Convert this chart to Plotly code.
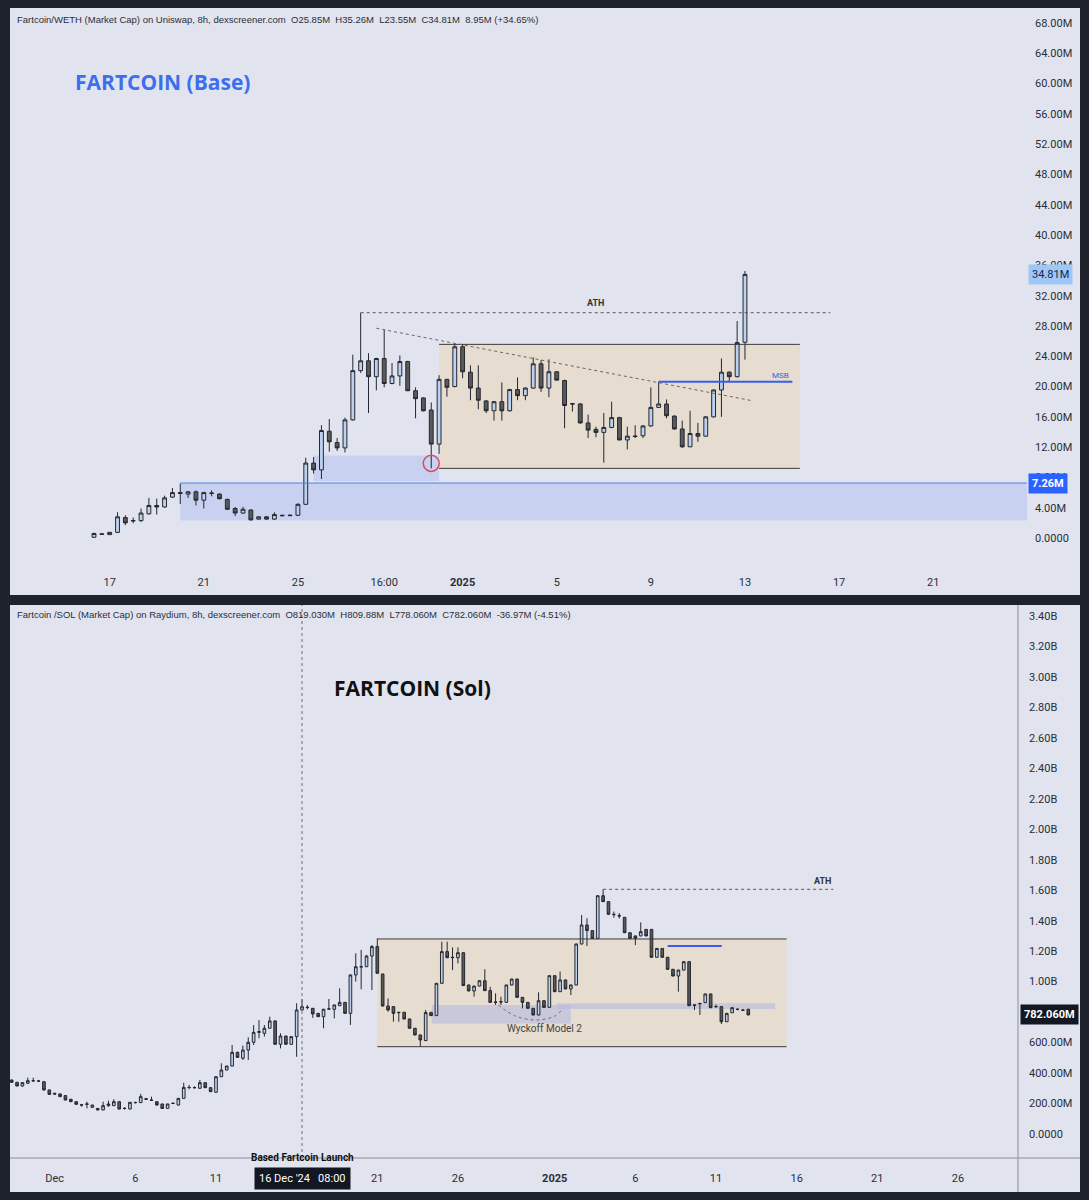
import pandas as pd
import plotly.graph_objects as go

W, H = 1089, 1200

# ---------------- TOP PANEL DATA (Fartcoin/WETH, values in M) ----------------
top_open = [0.1, 0.55, 0.45, 0.75, 2.7, 2.25, 2.3, 3.2, 4.3, 4.1, 5.4, 6.0, 5.8, 6.1, 5.0, 5.95, 5.8, 5.1, 3.9, 3.3,
            3.7, 2.5, 2.8, 2.5, 3.0, 2.95, 3.0, 4.45, 9.9, 9.0, 14.1, 12.6, 11.9, 15.6, 22.1, 23.4, 21.3, 23.7, 20.4, 21.4,
            23.3, 19.45, 18.5, 16.9, 12.4, 20.95, 20.0, 25.25, 21.9, 19.8, 18.1, 16.8, 18.0, 16.8, 19.6, 18.8, 19.8, 23.0, 19.8, 21.95,
            20.8, 17.75, 17.7, 15.2, 14.35, 13.95, 14.6, 15.9, 12.95, 13.4, 13.5, 14.8, 17.25, 17.7, 16.1, 14.4, 12.05, 13.8, 13.45, 16.0,
            19.55, 21.9, 21.3, 25.85]
top_high = [0.7, 0.6, 0.8, 3.4, 3.0, 2.7, 3.9, 5.3, 5.2, 5.6, 6.6, 7.2, 6.2, 6.3, 6.1, 6.3, 5.9, 5.2, 4.1, 4.1,
            3.8, 2.9, 2.9, 3.4, 3.1, 3.1, 4.6, 10.6, 10.7, 14.9, 15.7, 13.2, 15.9, 24.2, 29.75, 24.4, 23.8, 27.5, 23.1, 24.1,
            23.4, 19.9, 18.6, 17.9, 21.5, 21.0, 25.6, 25.6, 22.8, 22.8, 18.2, 18.1, 20.55, 19.7, 21.2, 19.9, 23.85, 23.5, 23.6, 22.0,
            20.9, 17.8, 17.8, 16.3, 14.7, 16.5, 18.0, 16.0, 14.7, 14.9, 14.9, 19.9, 20.65, 18.3, 16.2, 15.5, 16.8, 15.2, 16.1, 19.6,
            23.7, 22.0, 28.65, 35.26]
top_low = [0.05, 0.45, 0.4, 0.7, 1.7, 1.95, 2.1, 3.1, 3.1, 4.0, 5.3, 4.5, 5.3, 4.3, 3.9, 5.5, 5.1, 3.7, 2.9, 3.2,
           2.3, 2.4, 2.4, 2.4, 2.9, 2.9, 2.9, 4.4, 8.5, 7.8, 11.4, 11.5, 11.3, 15.5, 21.8, 16.5, 19.5, 19.9, 20.3, 20.1,
           19.4, 15.8, 16.7, 9.2, 11.1, 18.65, 19.9, 21.1, 18.2, 17.0, 16.5, 15.5, 15.5, 16.7, 18.2, 18.2, 19.7, 19.3, 18.6, 20.8,
           14.5, 16.7, 15.1, 13.2, 13.3, 9.95, 14.5, 12.9, 11.7, 13.2, 13.2, 14.7, 17.2, 15.8, 14.3, 11.9, 12.0, 12.7, 13.4, 15.9,
           16.0, 20.55, 21.2, 23.55]
top_close = [0.6, 0.5, 0.75, 2.8, 2.0, 2.3, 3.3, 4.3, 4.1, 5.3, 6.0, 5.9, 6.1, 5.0, 6.0, 5.9, 5.2, 3.8, 3.3, 3.8,
             2.4, 2.8, 2.5, 3.1, 2.95, 3.0, 4.45, 9.9, 9.0, 14.2, 12.7, 11.9, 15.6, 22.1, 23.4, 21.3, 23.7, 20.4, 21.4, 23.3,
             19.45, 18.4, 16.8, 12.4, 20.95, 19.9, 25.25, 21.95, 19.8, 18.2, 16.8, 18.0, 16.8, 19.6, 18.8, 19.8, 23.0, 19.8, 21.95, 20.85,
             17.5, 17.7, 15.2, 14.25, 13.95, 14.6, 15.9, 12.95, 13.45, 13.45, 14.8, 17.25, 17.7, 16.15, 14.4, 12.05, 13.8, 13.45, 16.0, 19.55,
             21.9, 21.3, 25.8, 34.81]
top_start = "2024-12-16 08:00"

top_y_ticks = [0, 4, 8, 12, 16, 20, 24, 28, 32, 36, 40, 44, 48, 52, 56, 60, 64, 68]
top_y_text = ["0.0000", "4.00M", "8.00M", "12.00M", "16.00M", "20.00M", "24.00M", "28.00M", "32.00M", "36.00M",
              "40.00M", "44.00M", "48.00M", "52.00M", "56.00M", "60.00M", "64.00M", "68.00M"]
top_x_ticks = ["2024-12-17", "2024-12-21", "2024-12-25", "2024-12-28 16:00", "2025-01-01", "2025-01-05",
               "2025-01-09", "2025-01-13", "2025-01-17", "2025-01-21"]
top_x_text = ["17", "21", "25", "16:00", "<b>2025</b>", "5", "9", "13", "17", "21"]

top_ath = 29.75
top_box = [9.2, 25.57]
top_msb = 20.65
top_support = 7.26
top_last = 34.81

# ---------------- BOTTOM PANEL DATA (Fartcoin/SOL, values in M) ----------------
bot_open = [354, 339, 315, 333, 350, 348, 343, 289, 267, 263, 252, 228, 212, 192, 195, 175, 168, 158, 186, 186,
            212, 169, 164, 207, 206, 232, 223, 212, 197, 168, 202, 190, 234, 306, 305, 300, 337, 304, 274, 376,
            420, 446, 536, 497, 551, 602, 667, 661, 694, 742, 589, 643, 589, 639, 814, 832, 825, 792, 770, 820,
            818, 842, 864, 792, 1044, 1098, 1098, 1168, 1230, 1050, 840, 836, 799, 799, 755, 694, 650, 613, 797, 777,
            989, 1197, 1160, 1157, 1190, 978, 939, 971, 1006, 941, 864, 868, 864, 978, 1017, 897, 864, 825, 781, 875,
            831, 1039, 934, 1011, 952, 978, 1247, 1372, 1335, 1284, 1564, 1525, 1442, 1433, 1422, 1321, 1300, 1300, 1343, 1343,
            1160, 1218, 1160, 1081, 1037, 1076, 1131, 847, 855, 862, 919, 836, 836, 737, 796, 818, 814, 819]
bot_high = [358, 342, 340, 370, 370, 355, 348, 291, 271, 266, 254, 230, 214, 195, 212, 192, 170, 212, 219, 228,
            214, 175, 210, 212, 263, 236, 245, 214, 199, 199, 205, 236, 337, 322, 313, 354, 340, 306, 378, 464,
            448, 584, 540, 580, 634, 715, 748, 715, 770, 745, 661, 645, 641, 858, 884, 847, 827, 794, 821, 886,
            849, 956, 866, 1046, 1186, 1208, 1175, 1240, 1284, 1052, 890, 838, 801, 801, 757, 696, 652, 814, 803, 991,
            1262, 1262, 1225, 1225, 1192, 980, 973, 1008, 1081, 966, 923, 901, 980, 1019, 1019, 899, 866, 827, 930, 877,
            1041, 1041, 1066, 1013, 980, 1249, 1437, 1416, 1337, 1566, 1606, 1527, 1460, 1450, 1424, 1323, 1302, 1389, 1345, 1345,
            1220, 1220, 1162, 1083, 1078, 1133, 1133, 849, 860, 921, 921, 850, 838, 794, 831, 825, 818, 819]
bot_low = [336, 313, 312, 330, 343, 343, 285, 258, 258, 243, 221, 210, 193, 179, 168, 172, 156, 156, 179, 184,
           162, 160, 162, 200, 204, 226, 219, 188, 166, 166, 198, 188, 232, 293, 298, 298, 302, 276, 272, 374,
           418, 444, 500, 486, 486, 584, 628, 639, 692, 587, 562, 587, 587, 507, 812, 818, 762, 768, 694, 818,
           759, 840, 790, 716, 1000, 950, 1096, 945, 1053, 838, 803, 737, 737, 753, 692, 648, 573, 611, 775, 775,
           987, 1155, 1076, 1120, 972, 937, 901, 969, 939, 862, 847, 847, 862, 976, 895, 825, 823, 779, 779, 829,
           829, 932, 932, 950, 912, 976, 1245, 1234, 1282, 1282, 1523, 1440, 1420, 1415, 1319, 1282, 1240, 1298, 1298, 1158,
           1158, 1158, 1079, 1035, 934, 1074, 840, 814, 781, 860, 827, 830, 722, 735, 794, 812, 808, 778]
bot_close = [339, 315, 337, 350, 349, 347, 289, 260, 262, 245, 223, 212, 195, 190, 197, 190, 158, 186, 197, 212,
             164, 168, 208, 206, 245, 228, 221, 190, 168, 197, 201, 234, 306, 305, 304, 337, 304, 278, 376, 420,
             446, 536, 503, 551, 602, 667, 672, 694, 742, 589, 643, 589, 639, 814, 836, 830, 788, 770, 819, 821,
             847, 864, 792, 1044, 1098, 1097, 1168, 1230, 1055, 840, 814, 792, 797, 755, 694, 650, 617, 797, 777, 989,
             1197, 1157, 1158, 1190, 974, 939, 971, 1006, 941, 864, 866, 867, 978, 1017, 897, 864, 825, 781, 875, 831,
             1039, 934, 1011, 952, 978, 1247, 1372, 1335, 1284, 1564, 1525, 1442, 1440, 1431, 1321, 1284, 1284, 1328, 1300, 1160,
             1218, 1160, 1081, 1037, 1076, 1131, 842, 845, 857, 919, 829, 836, 737, 792, 829, 818, 812, 782.06]
bot_start = "2024-11-28 08:00"

bot_y_ticks = [0, 200, 400, 600, 800, 1000, 1200, 1400, 1600, 1800, 2000, 2200, 2400, 2600, 2800, 3000, 3200, 3400]
bot_y_text = ["0.0000", "200.00M", "400.00M", "600.00M", "800.00M", "1.00B", "1.20B", "1.40B", "1.60B", "1.80B",
              "2.00B", "2.20B", "2.40B", "2.60B", "2.80B", "3.00B", "3.20B", "3.40B"]
bot_x_ticks = ["2024-12-01", "2024-12-06", "2024-12-11", "2024-12-21", "2024-12-26", "2025-01-01",
               "2025-01-06", "2025-01-11", "2025-01-16", "2025-01-21", "2025-01-26"]
bot_x_text = ["Dec", "6", "11", "21", "26", "<b>2025</b>", "6", "11", "16", "21", "26"]

bot_ath = 1606
bot_box = [573, 1280]
bot_blue = 1234
bot_last = 782.06
wyckoff_x = ["2024-12-28 12:00", "2024-12-29 14:00", "2024-12-30 21:00", "2025-01-01 00:00", "2025-01-01 12:00"]
wyckoff_y = [847, 774, 748, 774, 822]

# ---------------- FIGURE ----------------
BG = "#e1e4ef"
FRAME = "#1e222d"
UP_FILL, DN_FILL, EDGE = "#bcd2f0", "#5a5a5a", "#24272f"


def px(x):
    return x / W


def py(y):
    return 1 - y / H


top_dates = pd.date_range(top_start, periods=len(top_open), freq="8h")
bot_dates = pd.date_range(bot_start, periods=len(bot_open), freq="8h")

fig = go.Figure()
candle_style = dict(
    increasing=dict(line=dict(color=EDGE, width=1), fillcolor=UP_FILL),
    decreasing=dict(line=dict(color=EDGE, width=1), fillcolor=DN_FILL),
    whiskerwidth=0, showlegend=False, hoverinfo="skip",
)
fig.add_trace(go.Candlestick(x=top_dates, open=top_open, high=top_high, low=top_low, close=top_close,
                             xaxis="x", yaxis="y", **candle_style))
fig.add_trace(go.Candlestick(x=bot_dates, open=bot_open, high=bot_high, low=bot_low, close=bot_close,
                             xaxis="x2", yaxis="y2", **candle_style))
fig.add_trace(go.Scatter(x=wyckoff_x, y=wyckoff_y, mode="lines", xaxis="x2", yaxis="y2",
                         line=dict(color="#6b6f80", width=1, dash="dot", shape="spline"),
                         showlegend=False, hoverinfo="skip"))

tick_font = dict(family="Roboto, Liberation Sans, sans-serif", size=11, color="#2a2e39")
axis_common = dict(showgrid=False, zeroline=False, showline=False, fixedrange=True, tickfont=tick_font)

fig.update_layout(
    width=W, height=H, margin=dict(l=0, r=0, t=0, b=0),
    paper_bgcolor=FRAME, plot_bgcolor="rgba(0,0,0,0)",
    xaxis=dict(domain=[px(10), px(1027)], anchor="y", type="date",
               range=["2024-12-12 18:20", "2025-01-24 23:40"],
               tickmode="array", tickvals=top_x_ticks, ticktext=top_x_text,
               ticks="", ticklabelstandoff=9, rangeslider=dict(visible=False), **axis_common),
    yaxis=dict(domain=[py(565), py(8)], anchor="x", side="right", range=[-3.56, 69.98],
               tickmode="array", tickvals=top_y_ticks, ticktext=top_y_text,
               ticks="", ticklabelstandoff=7, **axis_common),
    xaxis2=dict(domain=[px(10), px(1018)], anchor="y2", type="date",
                range=["2024-11-28 05:30", "2025-01-29 17:20"],
                tickmode="array", tickvals=bot_x_ticks, ticktext=bot_x_text,
                ticks="", ticklabelstandoff=12, rangeslider=dict(visible=False), **axis_common),
    yaxis2=dict(domain=[py(1158), py(605)], anchor="x2", side="right", range=[-157.5, 3472],
                tickmode="array", tickvals=bot_y_ticks, ticktext=bot_y_text,
                ticks="", ticklabelstandoff=10, **axis_common),
)

shapes = []
# panel backgrounds
shapes.append(dict(type="rect", xref="paper", yref="paper", x0=px(10), x1=px(1080), y0=py(595), y1=py(8),
                   fillcolor=BG, line=dict(width=0), layer="below"))
shapes.append(dict(type="rect", xref="paper", yref="paper", x0=px(10), x1=px(1080), y0=py(1192), y1=py(605),
                   fillcolor=BG, line=dict(width=0), layer="below"))
# bottom panel separators
shapes.append(dict(type="line", xref="paper", yref="paper", x0=px(1018), x1=px(1018), y0=py(1192), y1=py(605),
                   line=dict(color="#8a8e9a", width=1)))
shapes.append(dict(type="line", xref="paper", yref="paper", x0=px(10), x1=px(1080), y0=py(1158), y1=py(1158),
                   line=dict(color="#8a8e9a", width=1)))

# --- top panel drawings ---
shapes.append(dict(type="rect", xref="x", yref="y", x0="2024-12-20 00:00", x1="2025-01-24 23:40",
                   y0=2.3, y1=top_support, fillcolor="#c9d1f1", line=dict(width=0), layer="below"))
shapes.append(dict(type="rect", xref="x", yref="y", x0="2024-12-25 16:00", x1="2024-12-31 00:00",
                   y0=7.5, y1=10.9, fillcolor="#c9d1f1", line=dict(width=0), layer="below"))
shapes.append(dict(type="line", xref="x", yref="y", x0="2024-12-20 00:00", x1="2025-01-24 23:40",
                   y0=top_support, y1=top_support, line=dict(color="#4f7ff0", width=1)))
shapes.append(dict(type="rect", xref="x", yref="y", x0="2024-12-31 00:00", x1="2025-01-15 08:00",
                   y0=top_box[0], y1=top_box[1], fillcolor="#e6dcd0", line=dict(width=0), layer="below"))
for yv in top_box:
    shapes.append(dict(type="line", xref="x", yref="y", x0="2024-12-31 00:00", x1="2025-01-15 08:00",
                       y0=yv, y1=yv, line=dict(color="#3a3a3a", width=1)))
shapes.append(dict(type="line", xref="x", yref="y", x0="2024-12-27 16:00", x1="2025-01-16 15:00",
                   y0=top_ath, y1=top_ath, line=dict(color="#555", width=1, dash="dot")))
shapes.append(dict(type="line", xref="x", yref="y", x0="2024-12-28 08:00", x1="2025-01-13 08:30",
                   y0=27.7, y1=18.1, line=dict(color="#666", width=1, dash="dot")))
shapes.append(dict(type="line", xref="x", yref="y", x0="2025-01-09 08:00", x1="2025-01-15 00:20",
                   y0=top_msb, y1=top_msb, line=dict(color="#3a5ee8", width=2)))
shapes.append(dict(type="circle", xref="x", yref="y", x0="2024-12-30 07:50", x1="2024-12-31 00:10",
                   y0=8.8, y1=10.92, line=dict(color="#e0455a", width=1.5)))

# --- bottom panel drawings ---
shapes.append(dict(type="rect", xref="x2", yref="y2", x0="2024-12-21 00:00", x1="2025-01-15 09:00",
                   y0=bot_box[0], y1=bot_box[1], fillcolor="#e6dcd0", line=dict(width=0), layer="below"))
for yv in bot_box:
    shapes.append(dict(type="line", xref="x2", yref="y2", x0="2024-12-21 00:00", x1="2025-01-15 09:00",
                       y0=yv, y1=yv, line=dict(color="#3a3a3a", width=1)))
shapes.append(dict(type="rect", xref="x2", yref="y2", x0="2024-12-24 09:00", x1="2025-01-02 00:00",
                   y0=726, y1=847, fillcolor="rgba(180,186,225,0.6)", line=dict(width=0), layer="below"))
shapes.append(dict(type="rect", xref="x2", yref="y2", x0="2025-01-01 03:00", x1="2025-01-14 16:00",
                   y0=820, y1=858, fillcolor="rgba(180,186,225,0.6)", line=dict(width=0), layer="below"))
shapes.append(dict(type="line", xref="x2", yref="y2", x0="2025-01-04 00:00", x1="2025-01-18 06:30",
                   y0=bot_ath, y1=bot_ath, line=dict(color="#555", width=1, dash="dot")))
shapes.append(dict(type="line", xref="x2", yref="y2", x0="2025-01-08 00:00", x1="2025-01-11 08:30",
                   y0=bot_blue, y1=bot_blue, line=dict(color="#3a5ee8", width=2)))
shapes.append(dict(type="line", xref="x2", yref="paper", x0="2024-12-16 08:00", x1="2024-12-16 08:00",
                   y0=py(1158), y1=py(605), line=dict(color="#6b6f7a", width=1, dash="dot")))
fig.update_layout(shapes=shapes)

hdr_font = dict(family="Liberation Sans, Arial, sans-serif", size=9.5, color="#2a2e39")
ann = []
ann.append(dict(xref="paper", yref="paper", x=px(15), y=py(19), xanchor="left", yanchor="middle", showarrow=False,
                text="Fartcoin/WETH (Market Cap) on Uniswap, 8h, dexscreener.com  O25.85M  H35.26M  L23.55M  C34.81M  8.95M (+34.65%)",
                font=hdr_font))
ann.append(dict(xref="paper", yref="paper", x=px(15), y=py(614), xanchor="left", yanchor="middle", showarrow=False,
                text="Fartcoin /SOL (Market Cap) on Raydium, 8h, dexscreener.com  O819.030M  H809.88M  L778.060M  C782.060M  -36.97M (-4.51%)",
                font=hdr_font))
ann.append(dict(xref="paper", yref="paper", x=px(73), y=py(82), xanchor="left", yanchor="middle", showarrow=False,
                text="<b>FARTCOIN (Base)</b>", font=dict(family="Open Sans, sans-serif", size=21, color="#3b6ff0")))
ann.append(dict(xref="paper", yref="paper", x=px(332), y=py(688), xanchor="left", yanchor="middle", showarrow=False,
                text="<b>FARTCOIN (Sol)</b>", font=dict(family="Open Sans, sans-serif", size=21, color="#111")))
ann.append(dict(xref="x", yref="y", x="2025-01-06 16:00", y=31.0, showarrow=False, text="<b>ATH</b>",
                font=dict(family="Roboto, sans-serif", size=9, color="#333")))
ann.append(dict(xref="x", yref="y", x="2025-01-14 12:00", y=21.5, showarrow=False, text="MSB",
                font=dict(family="Roboto, sans-serif", size=8, color="#3a5ee8")))
ann.append(dict(xref="x2", yref="y2", x="2025-01-17 15:00", y=1663, showarrow=False, text="<b>ATH</b>",
                font=dict(family="Roboto, sans-serif", size=9, color="#333")))
ann.append(dict(xref="x2", yref="y2", x="2024-12-31 09:30", y=691, showarrow=False, text="Wyckoff Model 2",
                font=dict(family="Roboto, sans-serif", size=10, color="#444")))
ann.append(dict(xref="x2", yref="paper", x="2024-12-16 08:00", y=py(1157), yanchor="middle", showarrow=False,
                text="<b>Based Fartcoin Launch</b>", font=dict(family="Roboto, sans-serif", size=10, color="#111")))
ann.append(dict(xref="x2", yref="paper", x="2024-12-16 08:00", y=py(1178), yanchor="middle", showarrow=False,
                text="16 Dec '24   08:00", bgcolor="#131722", borderpad=4,
                font=dict(family="Roboto, sans-serif", size=11, color="#ffffff")))
# price labels
ann.append(dict(xref="paper", yref="y", x=px(1028), y=top_last, xanchor="left", yanchor="middle", showarrow=False,
                text="34.81M", bgcolor="#9fc6f4", borderpad=3,
                font=dict(family="Roboto, sans-serif", size=11, color="#0f2a55")))
ann.append(dict(xref="paper", yref="y", x=px(1028), y=top_support, xanchor="left", yanchor="middle", showarrow=False,
                text="<b>7.26M</b>", bgcolor="#2962ff", borderpad=3,
                font=dict(family="Roboto, sans-serif", size=11, color="#ffffff")))
ann.append(dict(xref="paper", yref="y2", x=px(1020), y=bot_last, xanchor="left", yanchor="middle", showarrow=False,
                text="<b>782.060M</b>", bgcolor="#131722", borderpad=3,
                font=dict(family="Roboto, sans-serif", size=11, color="#ffffff")))
fig.update_layout(annotations=ann)

fig.write_html("out.html", config={"displayModeBar": False},
               post_script="document.body.style.margin='0';")
